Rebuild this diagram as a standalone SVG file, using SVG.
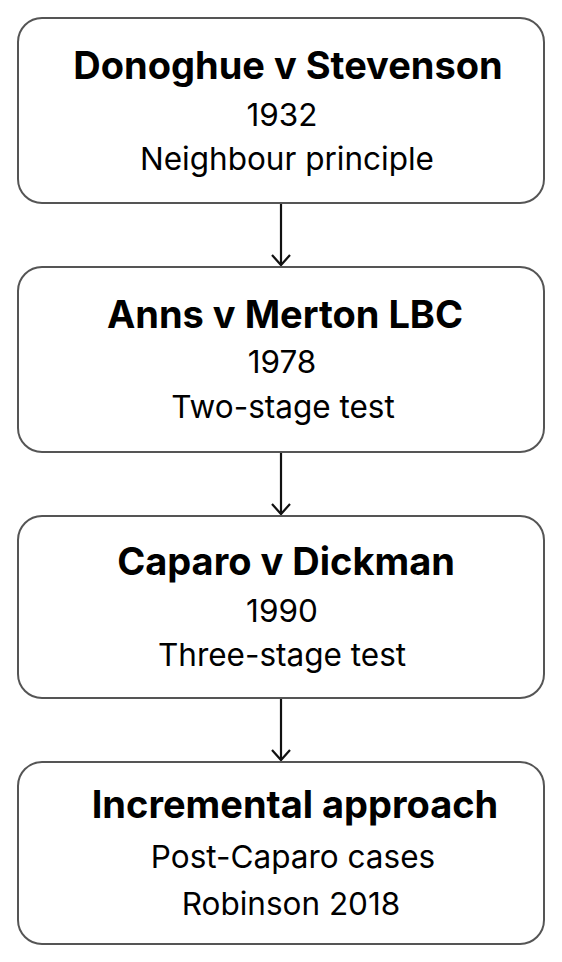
<svg xmlns="http://www.w3.org/2000/svg" width="562" height="962" viewBox="0 0 562 962">
<style>
.box{fill:#fff;stroke:#555;stroke-width:2}
.t{font-family:Inter,"Liberation Sans",sans-serif;font-weight:700;font-size:38px;fill:#000;text-anchor:middle}
.s{font-family:Inter,"Liberation Sans",sans-serif;font-size:31.5px;fill:#000;text-anchor:middle}
.c{stroke:#111;stroke-width:2.2;fill:none}
</style>
<defs>
<marker id="a" markerWidth="24" markerHeight="24" refX="12" refY="12" orient="auto" markerUnits="userSpaceOnUse">
<path d="M2,3 L12,12 L2,21" fill="none" stroke="#111" stroke-width="2.2"/>
</marker>
</defs>
<rect width="562" height="962" fill="#fff"/>
<g id="connectors">
<line class="c" x1="281" y1="204" x2="281" y2="265" marker-end="url(#a)"/>
<line class="c" x1="281" y1="453" x2="281" y2="514" marker-end="url(#a)"/>
<line class="c" x1="281" y1="699" x2="281" y2="760" marker-end="url(#a)"/>
</g>
<g id="n1">
<rect class="box" x="18" y="18" width="526" height="185" rx="24"/>
<text class="t" x="288" y="79">Donoghue v Stevenson</text>
<text class="s" x="282" y="126">1932</text>
<text class="s" x="287" y="170">Neighbour principle</text>
</g>
<g id="n2">
<rect class="box" x="18" y="267" width="526" height="185" rx="24"/>
<text class="t" x="285" y="328">Anns v Merton LBC</text>
<text class="s" x="282" y="373">1978</text>
<text class="s" x="283" y="418">Two-stage test</text>
</g>
<g id="n3">
<rect class="box" x="18" y="516" width="526" height="182" rx="24"/>
<text class="t" x="286" y="575">Caparo v Dickman</text>
<text class="s" x="282" y="622">1990</text>
<text class="s" x="282" y="666">Three-stage test</text>
</g>
<g id="n4">
<rect class="box" x="18" y="762" width="526" height="182" rx="24"/>
<text class="t" x="295" y="818">Incremental approach</text>
<text class="s" x="293" y="868">Post-Caparo cases</text>
<text class="s" x="291" y="915">Robinson 2018</text>
</g>
</svg>
